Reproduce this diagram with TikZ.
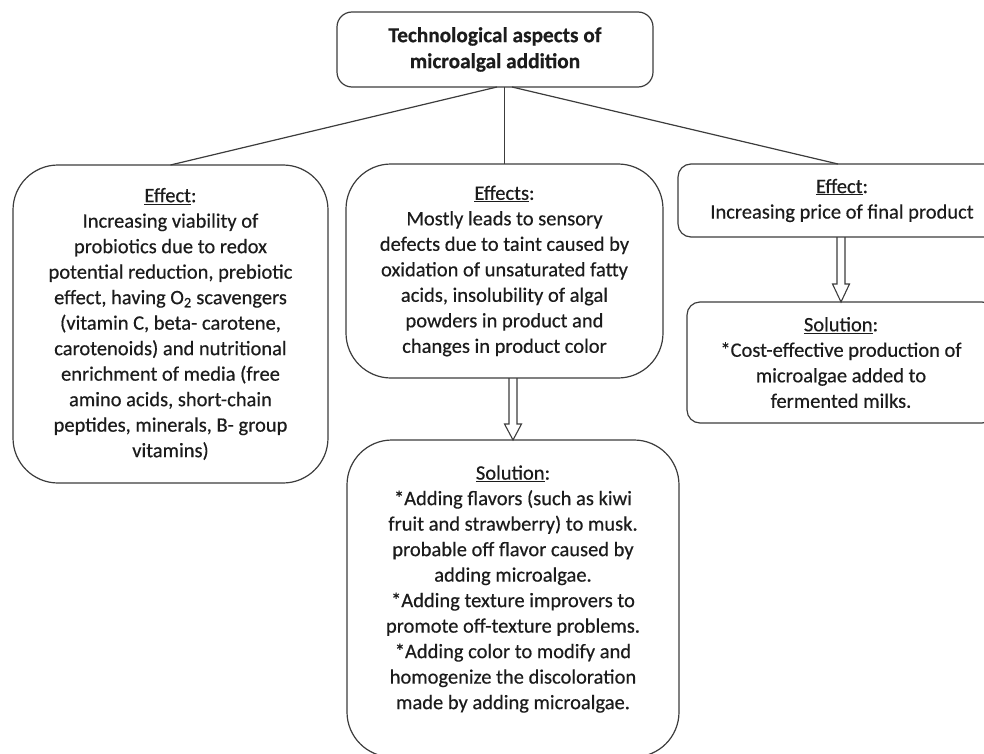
\documentclass[tikz,border=0pt]{standalone}
\usepackage{fontspec}
\setmainfont{Carlito}[FakeBold=0.45]
\usetikzlibrary{calc}
\definecolor{linegray}{HTML}{3C3C3C}
\definecolor{txt}{HTML}{1C1C1C}
\begin{document}
\begin{tikzpicture}[x=1pt,y=-1pt,
  box/.style={draw=linegray, line width=1.2pt, inner sep=0pt, outer sep=0pt,
    align=center, text=txt, font=\fontsize{20.5}{25.5}\selectfont},
  conn/.style={draw=linegray, line width=1.2pt},
  hollow/.style={draw=linegray, line width=1.1pt, line join=miter}]
\useasboundingbox (0,0) rectangle (984,754);
\clip (0,0) rectangle (984,754);

\node[box, rounded corners=15pt, minimum width=316pt, minimum height=75pt,
  font=\fontsize{21.3}{26}\selectfont\bfseries] (top) at (495,49.5)
  {Technological aspects of\\microalgal addition};

\node[box, rounded corners=45pt, minimum width=315pt, minimum height=318pt] (eff1) at (170.5,324)
  {\underline{Effect}:\\Increasing viability of\\probiotics due to redox\\potential reduction, prebiotic\\effect, having O\textsubscript{2} scavengers\\(vitamin C, beta- carotene,\\carotenoids) and nutritional\\enrichment of media (free\\amino acids, short-chain\\peptides, minerals, B- group\\vitamins)};

\node[box, rounded corners=45pt, minimum width=317pt, minimum height=214pt] (eff2) at (504.5,271)
  {\underline{Effects}:\\Mostly leads to sensory\\defects due to taint caused by\\oxidation of unsaturated fatty\\acids, insolubility of algal\\powders in product and\\changes in product color};

\node[box, rounded corners=13pt, minimum width=328pt, minimum height=73pt] (eff3) at (842,200.5)
  {\underline{Effect}:\\Increasing price of final product};

\node[box, rounded corners=13pt, minimum width=308pt, minimum height=121pt] (sol3) at (841,362.5)
  {\underline{Solution}:\\*Cost-effective production of\\microalgae added to\\fermented milks.};

\node[box, rounded corners=45pt, minimum width=332pt, minimum height=317pt] (sol2) at (513,598.5)
  {\underline{Solution}:\\*Adding flavors (such as kiwi\\fruit and strawberry) to musk.\\probable off flavor caused by\\adding microalgae.\\*Adding texture improvers to\\promote off-texture problems.\\*Adding color to modify and\\homogenize the discoloration\\made by adding microalgae.\\[-3pt]\mbox{}};

% connectors from top box
\draw[conn] ($(top.south)+(2,0)$) -- (eff1.north);
\draw[conn] (eff2.north |- top.south) -- (eff2.north);
\draw[conn] ($(top.south)+(17,0)$) -- ($(eff3.north)+(-4,0)$);

% hollow arrows
\draw[hollow] let \p1=(sol2.north), \p2=(eff2.south) in
  (\x1-4pt,\y2) -- (\x1-4pt,\y1+16pt) -- (\x1-8.5pt,\y1+16pt) -- (\x1,\y1)
  -- (\x1+8.5pt,\y1+16pt) -- (\x1+4pt,\y1+16pt) -- (\x1+4pt,\y2);
\draw[hollow] let \p1=(sol3.north), \p2=(eff3.south) in
  (\x1-4pt,\y2) -- (\x1-4pt,\y1+18pt) -- (\x1-8.5pt,\y1+18pt) -- (\x1,\y1)
  -- (\x1+8.5pt,\y1+18pt) -- (\x1+4pt,\y1+18pt) -- (\x1+4pt,\y2);
\end{tikzpicture}
\end{document}
